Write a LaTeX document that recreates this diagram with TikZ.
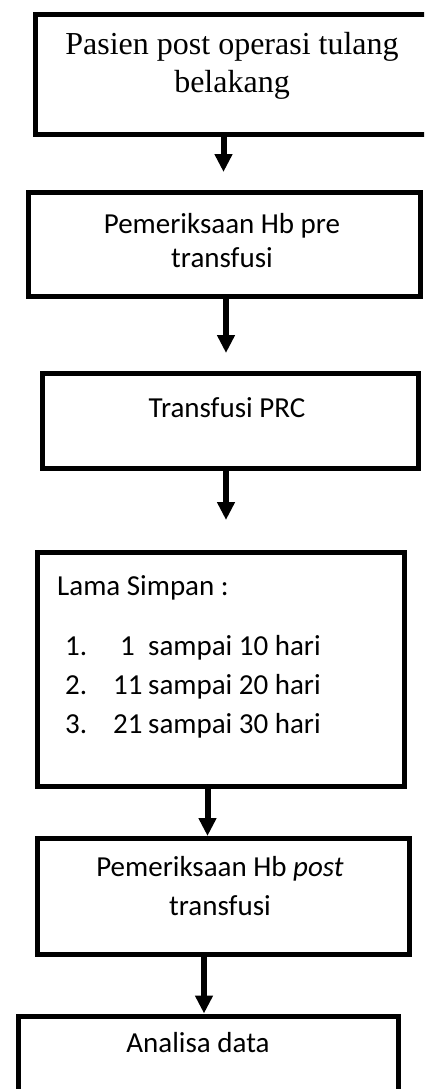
\documentclass[tikz,border=0pt]{standalone}
\usepackage{fontspec}
\setmainfont{Carlito}
\newfontfamily\timesfont{Liberation Serif}
\usetikzlibrary{arrows.meta}
\begin{document}
\begin{tikzpicture}[x=1pt,y=-1pt,
  box/.style={draw=black,line width=5pt,inner sep=0pt,anchor=north west},
  txt/.style={inner sep=0pt,anchor=base,font=\fontsize{29}{34}\selectfont},
  txtl/.style={inner sep=0pt,anchor=base west,font=\fontsize{29}{39}\selectfont},
  arr/.style={line width=6pt,-{Triangle[length=18pt,width=17pt]}}]
\useasboundingbox (0,0) rectangle (424,1089);
\clip (0,0) rectangle (424,1089);
\fill[white] (0,0) rectangle (424,1089);

% boxes
\node[box,minimum width=412pt,minimum height=120pt] (b1) at (33,12) {};
\node[box,minimum width=392pt,minimum height=104pt] (b2) at (26,190) {};
\node[box,minimum width=376pt,minimum height=94.5pt] (b3) at (39.5,371) {};
\node[box,minimum width=367.5pt,minimum height=233.5pt] (b4) at (34.5,550) {};
\node[box,minimum width=372pt,minimum height=116pt] (b5) at (34.5,836) {};
\node[box,minimum width=380.5pt,minimum height=100pt] (b6) at (15.5,1013.5) {};

% texts
\node[inner sep=0pt,anchor=base,font=\timesfont\fontsize{32}{38}\selectfont] (t1) at (232,55)
  {\begin{tabular}[t]{@{}c@{}}Pasien post operasi tulang\\belakang\end{tabular}};
\node[txt] (t2) at (222,233)
  {\begin{tabular}[t]{@{}c@{}}Pemeriksaan Hb pre\\transfusi\end{tabular}};
\node[txt] (t3) at (227,417) {Transfusi PRC};
\node[txtl] (t4) at (57,595) {Lama Simpan :};
\node[txtl] (t4l) at (65,655)
  {\begin{tabular}[t]{@{}l@{}}\makebox[55pt][l]{1.}\makebox[28pt][l]{1}sampai 10 hari\\
   \makebox[48pt][l]{2.}\makebox[35pt][l]{11}sampai 20 hari\\
   \makebox[48pt][l]{3.}\makebox[35pt][l]{21}sampai 30 hari\end{tabular}};
\node[inner sep=0pt,anchor=base,font=\fontsize{29}{39}\selectfont] (t5) at (220,876)
  {\begin{tabular}[t]{@{}c@{}}Pemeriksaan Hb \textit{post}\\transfusi\end{tabular}};
\node[txt] (t6) at (198,1052) {Analisa data};

% connectors
\coordinate (e1) at (223.5,172);
\coordinate (e2) at (226,353);
\coordinate (e3) at (226,520);
\coordinate (c4) at (207.5,0);
\coordinate (c5) at (204,0);
\draw[arr] (e1 |- b1.south) -- (e1);
\draw[arr] (e2 |- b2.south) -- (e2);
\draw[arr] (e3 |- b3.south) -- (e3);
\draw[arr] (c4 |- b4.south) -- (c4 |- b5.north);
\draw[arr] (c5 |- b5.south) -- (c5 |- b6.north);
\end{tikzpicture}
\end{document}
